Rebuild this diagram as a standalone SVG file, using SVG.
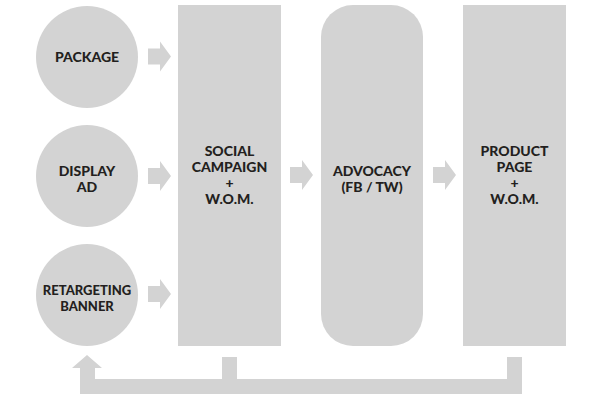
<svg xmlns="http://www.w3.org/2000/svg" width="600" height="400" viewBox="0 0 600 400">
<style>
.s{fill:#d3d3d3}
.t{font-family:Lato,"Open Sans","Liberation Sans",sans-serif;font-weight:900;font-size:14px;fill:#231f20;text-anchor:middle}
.ts{font-size:13px}
</style>
<defs>
<path id="ra" d="M0,-8 H12 V-15 L23,0 L12,15 V8 H0 Z"/>
</defs>
<rect width="600" height="400" fill="#fff"/>
<g id="package"><circle class="s" cx="87" cy="57" r="51"/><text class="t" x="87" y="62">PACKAGE</text></g>
<g id="display-ad"><circle class="s" cx="87" cy="176" r="51"/><text class="t" x="87" y="176">DISPLAY</text><text class="t" x="87" y="192">AD</text></g>
<g id="retargeting-banner"><circle class="s" cx="87" cy="295" r="51"/><text class="t ts" x="87" y="295">RETARGETING</text><text class="t ts" x="87" y="311">BANNER</text></g>
<g id="social-campaign"><rect class="s" x="178" y="5" width="103" height="341"/><text class="t" x="229.5" y="156">SOCIAL</text><text class="t" x="229.5" y="172">CAMPAIGN</text><text class="t" x="229.5" y="188">+</text><text class="t" x="229.5" y="204">W.O.M.</text></g>
<g id="advocacy"><rect class="s" x="321" y="5" width="102" height="341" rx="32" ry="32"/><text class="t" x="372" y="176">ADVOCACY</text><text class="t" x="372" y="192">(FB / TW)</text></g>
<g id="product-page"><rect class="s" x="463" y="5" width="103" height="341"/><text class="t" x="514.5" y="156">PRODUCT</text><text class="t" x="514.5" y="172">PAGE</text><text class="t" x="514.5" y="188">+</text><text class="t" x="514.5" y="204">W.O.M.</text></g>
<g id="connectors">
<use href="#ra" class="s" x="148" y="56.5"/>
<use href="#ra" class="s" x="148" y="176"/>
<use href="#ra" class="s" x="148" y="294"/>
<use href="#ra" class="s" x="290" y="175"/>
<use href="#ra" class="s" x="433" y="175"/>
<path class="s" d="M507,357 H522 V394 H80 V368 H72 L87,355 L102,368 H95 V379 H222 V357 H237 V379 H507 Z"/>
</g>
</svg>
